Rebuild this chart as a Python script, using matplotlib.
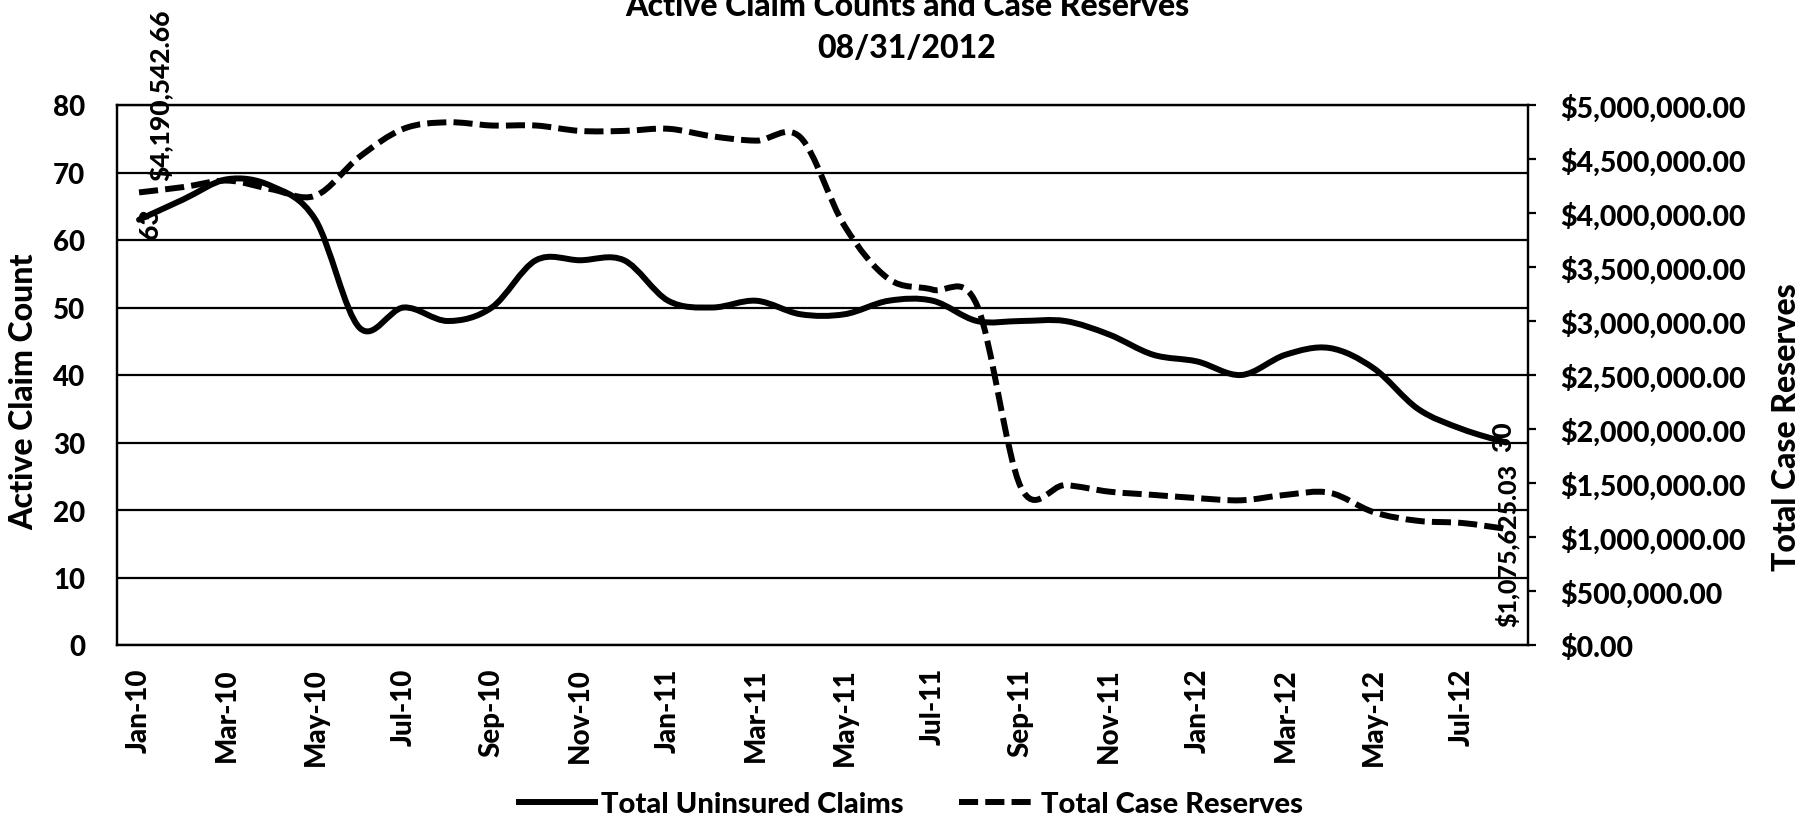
import matplotlib
matplotlib.use("Agg")
import matplotlib.pyplot as plt
from matplotlib.path import Path
from matplotlib.patches import PathPatch
from matplotlib.lines import Line2D
from matplotlib.ticker import FuncFormatter, MultipleLocator

months = ["Jan-10", "Feb-10", "Mar-10", "Apr-10", "May-10", "Jun-10", "Jul-10", "Aug-10",
          "Sep-10", "Oct-10", "Nov-10", "Dec-10", "Jan-11", "Feb-11", "Mar-11", "Apr-11",
          "May-11", "Jun-11", "Jul-11", "Aug-11", "Sep-11", "Oct-11", "Nov-11", "Dec-11",
          "Jan-12", "Feb-12", "Mar-12", "Apr-12", "May-12", "Jun-12", "Jul-12", "Aug-12"]

claims = [63, 66, 69, 68, 63, 47, 50, 48, 50, 57, 57, 57, 51, 50, 51, 49,
          49, 51, 51, 48, 48, 48, 46, 43, 42, 40, 43, 44, 41, 35, 32, 30]

reserves = [4190542.66, 4240000, 4300000, 4220000, 4160000, 4520000, 4780000, 4840000,
            4810000, 4810000, 4760000, 4760000, 4780000, 4710000, 4670000, 4700000,
            3880000, 3390000, 3290000, 3150000, 1460000, 1480000, 1420000, 1390000,
            1360000, 1340000, 1390000, 1410000, 1230000, 1150000, 1130000, 1075625.03]

claims_title = "Total Uninsured Claims"
reserves_title = "Total Case Reserves"
title_line1 = "Active Claim Counts and Case Reserves"
title_line2 = "08/31/2012"
left_label = "Active Claim Count"
right_label = "Total Case Reserves"

FONT = "Lato"
WT = "black"
LW = 4.3
DASH = (0, (3.2, 1.2))


def smooth_path(xs, ys):
    """Excel-like smoothed line as cubic Bezier segments (Catmull-Rom control points)."""
    n = len(xs)
    verts = [(xs[0], ys[0])]
    codes = [Path.MOVETO]
    for i in range(n - 1):
        i0 = max(i - 1, 0)
        i3 = min(i + 2, n - 1)
        c1 = (xs[i] + (xs[i + 1] - xs[i0]) / 6.0, ys[i] + (ys[i + 1] - ys[i0]) / 6.0)
        c2 = (xs[i + 1] - (xs[i3] - xs[i]) / 6.0, ys[i + 1] - (ys[i3] - ys[i]) / 6.0)
        verts += [c1, c2, (xs[i + 1], ys[i + 1])]
        codes += [Path.CURVE4] * 3
    return Path(verts, codes)


fig = plt.figure(figsize=(18.03, 8.2), dpi=100)
L, R, T, B = 117 / 1803, 1528 / 1803, 1 - 106 / 820, 1 - 646 / 820
ax = fig.add_axes([L, B, R - L, T - B])
ax2 = ax.twinx()

x = list(range(len(months)))

ax.set_xlim(-0.5, len(months) - 0.5)
ax.set_ylim(0, 80)
ax2.set_ylim(0, 5000000)

ax.add_patch(PathPatch(smooth_path(x, claims), fill=False, edgecolor="black",
                       linewidth=LW, capstyle="round", joinstyle="round", zorder=3))
ax2.add_patch(PathPatch(smooth_path(x, reserves), fill=False, edgecolor="black",
                        linewidth=LW, linestyle=DASH, capstyle="butt", joinstyle="round", zorder=3))

# grid and spines
ax.yaxis.set_major_locator(MultipleLocator(10))
ax.yaxis.grid(True, color="black", linewidth=1.6)
ax.set_axisbelow(True)
for a in (ax, ax2):
    for s in a.spines.values():
        s.set_color("black")
        s.set_linewidth(1.6)

ax.tick_params(axis="y", length=0, pad=23)
for lab in ax.get_yticklabels():
    lab.set_fontfamily(FONT)
    lab.set_fontweight(WT)
    lab.set_fontsize(20)

ax.set_xticks(x[::2])
ax.set_xticklabels(months[::2], rotation=90, fontfamily=FONT,
                   fontweight=WT, fontsize=20)
ax.tick_params(axis="x", length=0, pad=16)

ax2.yaxis.set_major_locator(MultipleLocator(500000))
ax2.yaxis.set_major_formatter(FuncFormatter(lambda v, p: "${:,.2f}".format(v)))
ax2.tick_params(axis="y", direction="out", length=6, width=1.6, pad=17)
for lab in ax2.get_yticklabels():
    lab.set_fontfamily(FONT)
    lab.set_fontweight(WT)
    lab.set_fontsize(20.5)

ax.set_ylabel(left_label, fontfamily=FONT, fontweight=WT, fontsize=23)
ax.yaxis.set_label_coords(-0.056, 0.47)
ax2.set_ylabel(right_label, fontfamily=FONT, fontweight=WT, fontsize=23)
ax2.yaxis.set_label_coords(1.173, 0.405)

# data labels at first and last points
lab_kw = dict(fontfamily=FONT, fontweight=WT, rotation=90, textcoords="offset points",
              annotation_clip=False, zorder=5)
ax.annotate(f"{claims[0]:,}", (x[0], claims[0]), xytext=(8, -2), ha="center", va="center",
            fontsize=19, **lab_kw)
ax2.annotate("${:,.2f}".format(reserves[0]), (x[0], reserves[0]), xytext=(15, 9),
             ha="center", va="bottom", fontsize=19, **lab_kw)
ax.annotate(f"{claims[-1]:,}", (x[-1], claims[-1]), xytext=(-2, -6), ha="center", va="bottom",
            fontsize=19, **lab_kw)
ax2.annotate("${:,.2f}".format(reserves[-1]), (x[-1], reserves[-1]), xytext=(1, -11),
             ha="center", va="center", fontsize=18, **lab_kw)

# title
fig.text(0.503, 1 - 6 / 820, title_line1, ha="center", va="center",
         fontfamily=FONT, fontweight=WT, fontsize=23)
fig.text(0.503, 1 - 49 / 820, title_line2, ha="center", va="center",
         fontfamily=FONT, fontweight=WT, fontsize=23)

handles = [Line2D([], [], color="black", linewidth=LW),
           Line2D([], [], color="black", linewidth=LW, linestyle=DASH)]
leg = fig.legend(handles, [claims_title, reserves_title], loc="center",
                 bbox_to_anchor=(911 / 1803, 1 - 805 / 820), ncol=2, frameon=False,
                 handlelength=2.6, handletextpad=0.2, columnspacing=1.9,
                 prop={"family": FONT, "weight": WT, "size": 21})

fig.savefig("out.png", dpi=100)
